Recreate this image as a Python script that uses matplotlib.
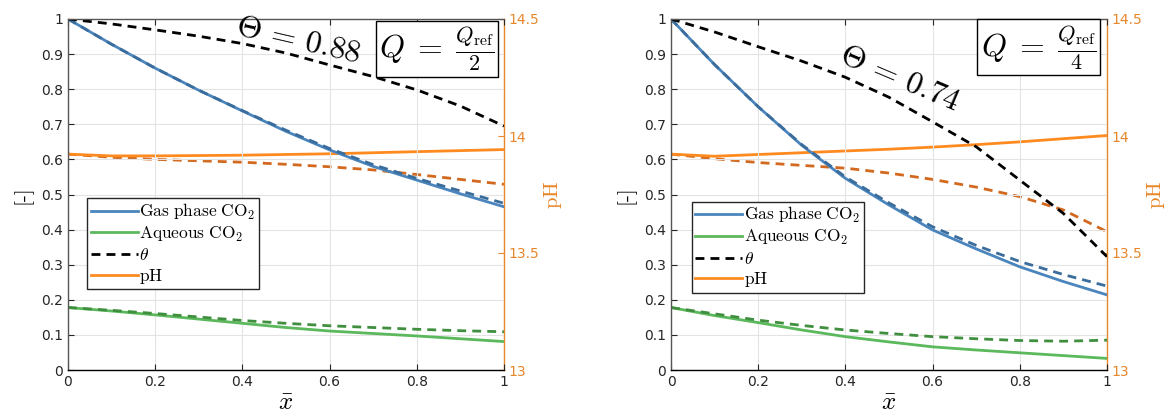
import matplotlib
matplotlib.use("Agg")
import matplotlib.pyplot as plt
from matplotlib.lines import Line2D

plt.rcParams['mathtext.fontset'] = 'cm'
plt.rcParams['font.family'] = ['DejaVu Sans']

x = [0.0, 0.1, 0.2, 0.3, 0.4, 0.5, 0.6, 0.7, 0.8, 0.9, 1.0]

# Left panel (Q = Qref/2)
gas_L = [1.0, 0.928, 0.86, 0.797, 0.738, 0.68, 0.627, 0.58, 0.541, 0.502, 0.465]
gas_L_d = [1.0, 0.928, 0.86, 0.797, 0.739, 0.683, 0.631, 0.585, 0.546, 0.51, 0.475]
theta_L = [1.0, 0.986, 0.969, 0.951, 0.93, 0.903, 0.869, 0.836, 0.798, 0.752, 0.695]
ph_L = [13.9225, 13.915, 13.915, 13.9165, 13.918, 13.921, 13.924, 13.9285, 13.933, 13.9375, 13.942]
ph_L_d = [13.9225, 13.909, 13.90, 13.894, 13.888, 13.879, 13.8685, 13.855, 13.8355, 13.8145, 13.7935]
aq_L = [0.178, 0.168, 0.157, 0.145, 0.133, 0.121, 0.111, 0.104, 0.097, 0.089, 0.081]
aq_L_d = [0.178, 0.170, 0.161, 0.151, 0.141, 0.133, 0.126, 0.121, 0.116, 0.112, 0.109]

# Right panel (Q = Qref/4)
gas_R = [1.0, 0.87, 0.75, 0.64, 0.546, 0.47, 0.399, 0.345, 0.294, 0.252, 0.214]
gas_R_d = [1.0, 0.87, 0.75, 0.642, 0.55, 0.476, 0.408, 0.355, 0.309, 0.272, 0.239]
theta_R = [1.0, 0.963, 0.921, 0.88, 0.834, 0.777, 0.707, 0.636, 0.541, 0.446, 0.323]
ph_R = [13.9225, 13.9135, 13.921, 13.9285, 13.936, 13.9435, 13.9525, 13.963, 13.975, 13.9885, 14.002]
ph_R_d = [13.9225, 13.903, 13.8865, 13.8745, 13.8625, 13.8415, 13.8145, 13.7815, 13.741, 13.684, 13.591]
aq_R = [0.178, 0.155, 0.135, 0.114, 0.095, 0.080, 0.066, 0.057, 0.049, 0.041, 0.033]
aq_R_d = [0.178, 0.160, 0.142, 0.127, 0.114, 0.104, 0.095, 0.089, 0.084, 0.082, 0.085]

theta_labels = [r'$\Theta\,=\,0.88$', r'$\Theta\,=\,0.74$']
q_labels = [r'$Q\;=\;\frac{Q_{\mathrm{ref}}}{2}$', r'$Q\;=\;\frac{Q_{\mathrm{ref}}}{4}$']
xticks = [0, 0.2, 0.4, 0.6, 0.8, 1.0]
xticklabels = ['0', '0.2', '0.4', '0.6', '0.8', '1']
yticks = [0, 0.1, 0.2, 0.3, 0.4, 0.5, 0.6, 0.7, 0.8, 0.9, 1.0]
yticklabels = ['0', '0.1', '0.2', '0.3', '0.4', '0.5', '0.6', '0.7', '0.8', '0.9', '1']
phticks = [13, 13.5, 14, 14.5]
phticklabels = ['13', '13.5', '14', '14.5']

C_BLUE = '#4a85bd'
C_BLUE_D = '#3a6d9c'
C_GREEN = '#5cb85c'
C_GREEN_D = '#3f8f3f'
C_ORANGE = '#ff8a1f'
C_ORANGE_D = '#d2691e'
C_AX = '#e8862a'

fig = plt.figure(figsize=(11.7, 4.16), dpi=100)
W, H = 1170, 416
panels = [
    dict(left=68, gas=gas_L, gas_d=gas_L_d, th=theta_L, ph=ph_L, ph_d=ph_L_d, aq=aq_L, aq_d=aq_L_d,
         tpos=(0.53, 0.94), trot=-13, qpos=(0.847, 0.915), legpos=(0.044, 0.23)),
    dict(left=671, gas=gas_R, gas_d=gas_R_d, th=theta_R, ph=ph_R, ph_d=ph_R_d, aq=aq_R, aq_d=aq_R_d,
         tpos=(0.525, 0.832), trot=-23, qpos=(0.843, 0.92), legpos=(0.048, 0.22)),
]
dash = (0, (3.2, 2.2))
lw = 2.0
for i, p in enumerate(panels):
    ax = fig.add_axes([p['left'] / W, 46 / H, 436 / W, 351 / H])
    ax2 = ax.twinx()
    ax.set_zorder(ax2.get_zorder() + 1)
    ax.patch.set_visible(False)

    ax2.plot(x, p['ph_d'], color=C_ORANGE_D, lw=lw, ls=dash)
    ax2.plot(x, p['ph'], color=C_ORANGE, lw=lw)
    ax2.set_ylim(13, 14.5)
    ax2.set_yticks(phticks)
    ax2.set_yticklabels(phticklabels)
    ax2.tick_params(axis='y', colors=C_AX, direction='in', length=4, labelsize=10, width=0.8)
    for s in ['left', 'top', 'bottom']:
        ax2.spines[s].set_visible(False)
    ax2.spines['right'].set_color(C_AX)
    ax2.spines['right'].set_linewidth(1.0)
    ax2.set_ylabel(r'$\mathrm{pH}$', color=C_AX, fontsize=15, labelpad=2)

    ax.plot(x, p['gas'], color=C_BLUE, lw=lw)
    ax.plot(x, p['gas_d'], color=C_BLUE_D, lw=lw, ls=dash)
    ax.plot(x, p['aq'], color=C_GREEN, lw=lw)
    ax.plot(x, p['aq_d'], color=C_GREEN_D, lw=lw, ls=dash)
    ax.plot(x, p['th'], color='black', lw=lw, ls=dash)

    ax.set_xlim(0, 1)
    ax.set_ylim(0, 1)
    ax.set_xticks(xticks)
    ax.set_xticklabels(xticklabels)
    ax.set_yticks(yticks)
    ax.set_yticklabels(yticklabels)
    ax.tick_params(direction='in', length=4, labelsize=10, width=0.8, colors='#262626', top=True)
    ax.tick_params(axis='y', right=False)
    ax.grid(True, color='#e3e3e3', lw=0.8)
    ax.set_axisbelow(True)
    ax.spines['left'].set_color('#555555')
    ax.spines['top'].set_color('#555555')
    ax.spines['bottom'].set_color('black')
    ax.spines['right'].set_visible(False)
    for s in ['left', 'top', 'bottom']:
        ax.spines[s].set_linewidth(1.0)
    ax.set_xlabel(r'$\bar{x}$', fontsize=18, labelpad=1)
    ax.set_ylabel('[-]', fontsize=15, fontfamily='cmr10', labelpad=6)

    ax.text(p['tpos'][0], p['tpos'][1], theta_labels[i], fontsize=23, rotation=p['trot'],
            ha='center', va='center', rotation_mode='anchor', zorder=5)
    ax.text(p['qpos'][0], p['qpos'][1], q_labels[i], fontsize=23, transform=ax.transAxes,
            ha='center', va='center', zorder=6,
            bbox=dict(boxstyle='square,pad=0.1', fc='white', ec='black', lw=1.0))

    handles = [Line2D([], [], color=C_BLUE, lw=lw),
               Line2D([], [], color=C_GREEN, lw=lw),
               Line2D([], [], color='black', lw=lw, ls=dash),
               Line2D([], [], color=C_ORANGE, lw=lw)]
    labels = [r'$\mathrm{Gas\ phase\ CO_2}$', r'$\mathrm{Aqueous\ CO_2}$', r'$\theta$', r'$\mathrm{pH}$']
    leg = ax.legend(handles, labels, loc='lower left', bbox_to_anchor=p['legpos'],
                    fontsize=12.5, handlelength=2.7, handletextpad=0.1, labelspacing=0.15,
                    borderpad=0.2, borderaxespad=0, fancybox=False, framealpha=1,
                    edgecolor='#262626')
    leg.get_frame().set_linewidth(1.0)

fig.savefig('out.png', dpi=100)
